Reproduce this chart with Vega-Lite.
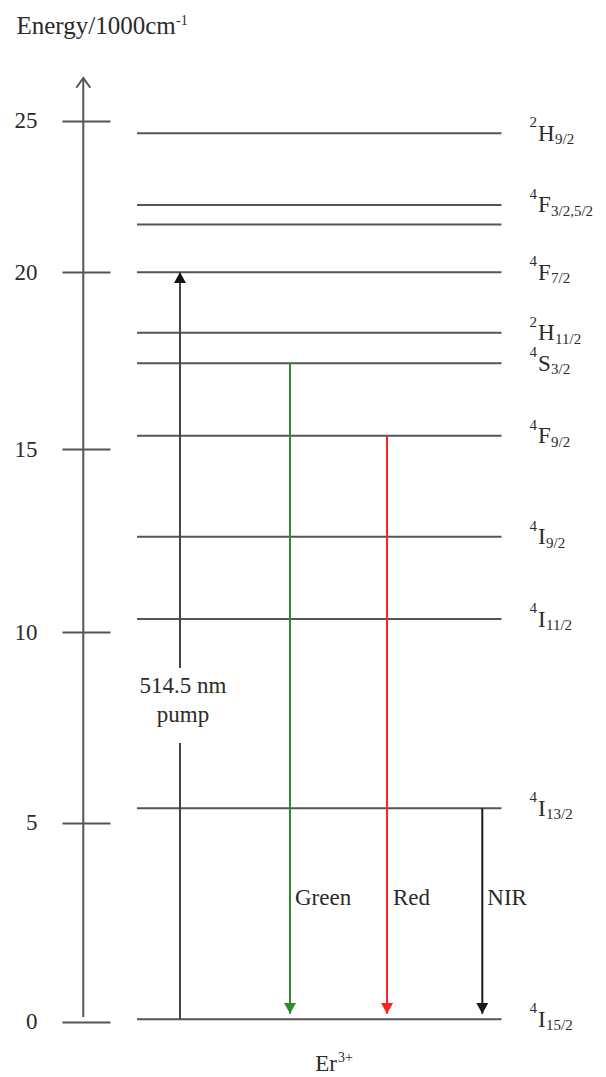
{
  "$schema": "https://vega.github.io/schema/vega-lite/v6.json",
  "width": 606,
  "height": 1077,
  "autosize": {"type": "none"},
  "padding": 0,
  "background": "white",
  "config": {
    "view": {"stroke": null},
    "text": {"font": "Liberation Serif", "color": "#2b2b2b"}
  },
  "datasets": {
    "levels": [
      {"level": "2H9/2", "sup": "2", "term": "H", "sub": "9/2", "energy": 24.59},
      {"level": "4F3/2", "sup": "4", "term": "F", "sub": "3/2,5/2", "energy": 22.22},
      {"level": "4F5/2", "energy": 21.58},
      {"level": "4F7/2", "sup": "4", "term": "F", "sub": "7/2", "energy": 20.0},
      {"level": "2H11/2", "sup": "2", "term": "H", "sub": "11/2", "energy": 18.29},
      {"level": "4S3/2", "sup": "4", "term": "S", "sub": "3/2", "energy": 17.43},
      {"level": "4F9/2", "sup": "4", "term": "F", "sub": "9/2", "energy": 15.38},
      {"level": "4I9/2", "sup": "4", "term": "I", "sub": "9/2", "energy": 12.61},
      {"level": "4I11/2", "sup": "4", "term": "I", "sub": "11/2", "energy": 10.36},
      {"level": "4I13/2", "sup": "4", "term": "I", "sub": "13/2", "energy": 5.38},
      {"level": "4I15/2", "sup": "4", "term": "I", "sub": "15/2", "energy": 0.06}
    ],
    "transitions": [
      {"name": "pump", "label": "514.5 nm\npump", "from": 0.06, "to": 20.0},
      {"name": "Green", "label": "Green", "from": 17.43, "to": 0.2},
      {"name": "Red", "label": "Red", "from": 15.38, "to": 0.2},
      {"name": "NIR", "label": "NIR", "from": 5.38, "to": 0.2}
    ]
  },
  "layer": [
    {
      "data": {"name": "levels"},
      "mark": {"type": "rule", "color": "#555555", "strokeWidth": 2},
      "encoding": {
        "y": {
          "field": "energy",
          "type": "quantitative",
          "scale": {"domain": [0, 5, 10, 15, 20, 25], "range": [1021.7, 822.7, 632.3, 449.3, 272.3, 120.7], "nice": false, "zero": false},
          "axis": {
            "orient": "left",
            "values": [0, 5, 10, 15, 20, 25],
            "offset": -110,
            "domain": false,
            "grid": false,
            "ticks": true,
            "labels": true,
            "tickSize": 48,
            "tickColor": "#555555",
            "tickWidth": 2,
            "labelFont": "Liberation Serif",
            "labelFontSize": 23,
            "labelColor": "#2b2b2b",
            "labelPadding": 25,
            "title": "Energy/1000cm",
            "titleFont": "Liberation Serif",
            "titleFontSize": 25,
            "titleFontWeight": "normal",
            "titleColor": "#2b2b2b",
            "titleAngle": 0,
            "titleAlign": "left",
            "titleBaseline": "alphabetic",
            "titleX": -94,
            "titleY": 33
          }
        },
        "x": {"datum": 20.35, "type": "quantitative", "axis": null},
        "x2": {"datum": 74.48}
      }
    },
    {
      "data": {"values": [{"part": "energy axis"}]},
      "mark": {"type": "rule", "color": "#555555", "strokeWidth": 2},
      "encoding": {
        "x": {"datum": 12.37, "type": "quantitative", "axis": null},
        "y": {"datum": 0.12, "type": "quantitative"},
        "y2": {"datum": 26.41}
      }
    },
    {
      "data": {"values": [{"part": "energy axis arrow"}]},
      "mark": {"type": "point", "shape": "M-1,1.4L0,0L1,1.4", "filled": false, "stroke": "#555555", "strokeWidth": 2, "size": 196, "opacity": 1},
      "encoding": {
        "x": {"datum": 12.37, "type": "quantitative", "axis": null},
        "y": {"datum": 26.41, "type": "quantitative"}
      }
    },
    {
      "data": {"values": [{"t": "-1"}]},
      "mark": {"type": "text", "fontSize": 14, "align": "left", "baseline": "alphabetic"},
      "encoding": {
        "text": {"field": "t"},
        "x": {"datum": 26.14, "type": "quantitative", "axis": null},
        "y": {"datum": 28.16, "type": "quantitative"}
      }
    },
    {
      "data": {"name": "levels"},
      "transform": [{"filter": "datum.term"}],
      "mark": {"type": "text", "fontSize": 15, "align": "right", "baseline": "alphabetic", "dx": -1, "dy": -6},
      "encoding": {
        "text": {"field": "sup"},
        "x": {"datum": 79.9, "type": "quantitative", "axis": null},
        "y": {"field": "energy", "type": "quantitative"}
      }
    },
    {
      "data": {"name": "levels"},
      "transform": [{"filter": "datum.term"}],
      "mark": {"type": "text", "fontSize": 23, "align": "left", "baseline": "alphabetic", "dy": 7.5},
      "encoding": {
        "text": {"field": "term"},
        "x": {"datum": 79.9, "type": "quantitative", "axis": null},
        "y": {"field": "energy", "type": "quantitative"}
      }
    },
    {
      "data": {"name": "levels"},
      "transform": [{"filter": "datum.term === 'H'"}],
      "mark": {"type": "text", "fontSize": 15, "align": "left", "baseline": "alphabetic", "dy": 11},
      "encoding": {
        "text": {"field": "sub"},
        "x": {"datum": 82.43, "type": "quantitative", "axis": null},
        "y": {"field": "energy", "type": "quantitative"}
      }
    },
    {
      "data": {"name": "levels"},
      "transform": [{"filter": "datum.term === 'F' || datum.term === 'S'"}],
      "mark": {"type": "text", "fontSize": 15, "align": "left", "baseline": "alphabetic", "dy": 11},
      "encoding": {
        "text": {"field": "sub"},
        "x": {"datum": 81.83, "type": "quantitative", "axis": null},
        "y": {"field": "energy", "type": "quantitative"}
      }
    },
    {
      "data": {"name": "levels"},
      "transform": [{"filter": "datum.term === 'I'"}],
      "mark": {"type": "text", "fontSize": 15, "align": "left", "baseline": "alphabetic", "dy": 11},
      "encoding": {
        "text": {"field": "sub"},
        "x": {"datum": 81.09, "type": "quantitative", "axis": null},
        "y": {"field": "energy", "type": "quantitative"}
      }
    },
    {
      "data": {"name": "transitions"},
      "transform": [{"filter": "datum.name === 'pump'"}],
      "layer": [
        {
          "mark": {"type": "rule", "color": "#444444", "strokeWidth": 2},
          "encoding": {"x": {"datum": 26.73, "type": "quantitative", "axis": null}, "y": {"field": "from", "type": "quantitative"}, "y2": {"datum": 7.09}}
        },
        {
          "mark": {"type": "rule", "color": "#444444", "strokeWidth": 2},
          "encoding": {"x": {"datum": 26.73, "type": "quantitative", "axis": null}, "y": {"field": "to", "type": "quantitative"}, "y2": {"datum": 9.06}}
        },
        {
          "mark": {"type": "point", "shape": "M-1,1.8L1,1.8L0,0Z", "filled": true, "color": "#111111", "size": 144, "opacity": 1},
          "encoding": {"x": {"datum": 26.73, "type": "quantitative", "axis": null}, "y": {"field": "to", "type": "quantitative"}}
        },
        {
          "mark": {"type": "text", "fontSize": 23, "align": "center", "baseline": "alphabetic", "dx": 3, "lineBreak": "\n", "lineHeight": 29},
          "encoding": {"x": {"datum": 26.73, "type": "quantitative", "axis": null}, "text": {"field": "label"}, "y": {"datum": 8.41, "type": "quantitative"}}
        }
      ]
    },
    {
      "data": {"name": "transitions"},
      "transform": [{"filter": "datum.name === 'Green'"}],
      "layer": [
        {
          "mark": {"type": "rule", "color": "#2e8b2e", "strokeWidth": 2},
          "encoding": {"x": {"datum": 43.07, "type": "quantitative", "axis": null}, "y": {"field": "from", "type": "quantitative"}, "y2": {"field": "to"}}
        },
        {
          "mark": {"type": "point", "shape": "M-1,-1.8L1,-1.8L0,0Z", "filled": true, "color": "#2e8b2e", "size": 144, "opacity": 1},
          "encoding": {"x": {"datum": 43.07, "type": "quantitative", "axis": null}, "y": {"field": "to", "type": "quantitative"}}
        },
        {
          "mark": {"type": "text", "fontSize": 23, "align": "left", "baseline": "alphabetic", "dx": 5},
          "encoding": {"x": {"datum": 43.07, "type": "quantitative", "axis": null}, "text": {"field": "label"}, "y": {"datum": 2.93, "type": "quantitative"}}
        }
      ]
    },
    {
      "data": {"name": "transitions"},
      "transform": [{"filter": "datum.name === 'Red'"}],
      "layer": [
        {
          "mark": {"type": "rule", "color": "#ff2020", "strokeWidth": 2},
          "encoding": {"x": {"datum": 57.48, "type": "quantitative", "axis": null}, "y": {"field": "from", "type": "quantitative"}, "y2": {"field": "to"}}
        },
        {
          "mark": {"type": "point", "shape": "M-1,-1.8L1,-1.8L0,0Z", "filled": true, "color": "#ff2020", "size": 144, "opacity": 1},
          "encoding": {"x": {"datum": 57.48, "type": "quantitative", "axis": null}, "y": {"field": "to", "type": "quantitative"}}
        },
        {
          "mark": {"type": "text", "fontSize": 23, "align": "left", "baseline": "alphabetic", "dx": 6},
          "encoding": {"x": {"datum": 57.48, "type": "quantitative", "axis": null}, "text": {"field": "label"}, "y": {"datum": 2.93, "type": "quantitative"}}
        }
      ]
    },
    {
      "data": {"name": "transitions"},
      "transform": [{"filter": "datum.name === 'NIR'"}],
      "layer": [
        {
          "mark": {"type": "rule", "color": "#1a1a1a", "strokeWidth": 2},
          "encoding": {"x": {"datum": 71.63, "type": "quantitative", "axis": null}, "y": {"field": "from", "type": "quantitative"}, "y2": {"field": "to"}}
        },
        {
          "mark": {"type": "point", "shape": "M-1,-1.8L1,-1.8L0,0Z", "filled": true, "color": "#1a1a1a", "size": 144, "opacity": 1},
          "encoding": {"x": {"datum": 71.63, "type": "quantitative", "axis": null}, "y": {"field": "to", "type": "quantitative"}}
        },
        {
          "mark": {"type": "text", "fontSize": 23, "align": "left", "baseline": "alphabetic", "dx": 5},
          "encoding": {"x": {"datum": 71.63, "type": "quantitative", "axis": null}, "text": {"field": "label"}, "y": {"datum": 2.93, "type": "quantitative"}}
        }
      ]
    },
    {
      "data": {"values": [{"ion": "Er"}]},
      "mark": {"type": "text", "fontSize": 23, "align": "right", "baseline": "alphabetic"},
      "encoding": {
        "text": {"field": "ion"},
        "x": {"datum": 50.05, "type": "quantitative", "axis": null},
        "y": {"datum": -1.23, "type": "quantitative"}
      }
    },
    {
      "data": {"values": [{"charge": "3+"}]},
      "mark": {"type": "text", "fontSize": 14, "align": "left", "baseline": "alphabetic", "dx": 1},
      "encoding": {
        "text": {"field": "charge"},
        "x": {"datum": 50.05, "type": "quantitative", "axis": null},
        "y": {"datum": -1.01, "type": "quantitative"}
      }
    }
  ]
}
